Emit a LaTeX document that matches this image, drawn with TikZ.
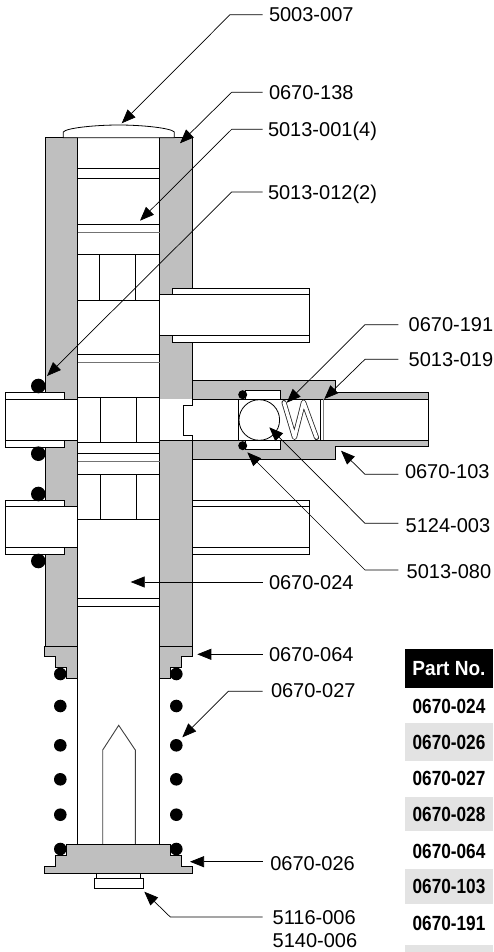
\documentclass[tikz,border=0pt]{standalone}
\usepackage{fontspec}
\setmainfont{Liberation Sans}
\newfontfamily\tabfont[FakeStretch=0.84]{Liberation Sans}
\newfontfamily\hdrfont[FakeStretch=0.93]{Liberation Sans}
\usetikzlibrary{arrows.meta}
\definecolor{body}{HTML}{BFBFBF}
\definecolor{rowgray}{HTML}{E3E3E3}
\tikzset{
  x=1pt,y=-1pt,
  part/.style={draw=black,line width=0.8pt,fill=body,line join=miter},
  open/.style={draw=black,line width=0.8pt,fill=white},
  edge/.style={draw=black,line width=0.8pt},
  ring/.style={fill=black},
  lead/.style={draw=black,line width=0.7pt,-{Triangle[length=14pt,width=11pt]},shorten >=0pt},
  lab/.style={anchor=west,inner ysep=0pt,inner xsep=0pt,outer sep=0pt,font=\fontsize{20}{22}\selectfont,text height=14.3pt,text depth=0pt},
  rowbase/.style={minimum width=88pt,inner sep=0pt,font=\tabfont\bfseries\fontsize{20.5}{22}\selectfont,text height=14.7pt,text depth=0pt},
  hdr/.style={rowbase,fill=black,text=white,minimum height=39pt,font=\hdrfont\bfseries\fontsize{20.5}{22}\selectfont},
  shade/.style={rowbase,fill=rowgray,minimum height=36pt},
  plain/.style={rowbase}
}
\begin{document}
\begin{tikzpicture}
\useasboundingbox (0,0) rectangle (493,952);
\fill[white] (0,0) rectangle (493,952);

% body walls
\path[part] (45,137.7) rectangle (77.5,646.7);
\path[part] (159.5,137.7) rectangle (192.5,646.7);

% cap
\path[open] (63.3,137.7) -- (63.3,132) .. controls (66,128) and (95,125) .. (118.8,125) .. controls (142,125) and (171,128) .. (174.3,132) -- (174.3,137.7) -- cycle;

% bore lines
\foreach \yy in {168.3,178.3,224.3,254.7,300.3,354.3,397.3,442.7,453.7,474.3,519.7,598.3,606.7}
  \draw[edge] (77.5,\yy) -- (159.5,\yy);
\foreach \yy in {232.7,362,461.7}
  \draw[draw=black!55,line width=1pt] (77.5,\yy) -- (159.5,\yy);
\draw[edge] (99.3,254.7) -- (99.3,300.3) (135.3,254.7) -- (135.3,300.3);
\draw[edge] (100.3,397.3) -- (100.3,442.7) (136.7,397.3) -- (136.7,442.7);
\draw[edge] (100.3,474.3) -- (100.3,519.7) (136.7,474.3) -- (136.7,519.7);

% upper right port
\path[open] (172.3,288.3) rectangle (309.3,342.3);
\fill[white] (159.9,294.3) rectangle (192.9,335.3);
\draw[edge] (159.5,294.3) -- (309.3,294.3) (159.5,335.3) -- (309.3,335.3);

% left ports
\path[open] (5.3,392.7) rectangle (64.7,447.3);
\fill[white] (6,399.3) rectangle (77.1,440.3);
\draw[edge] (5.3,399.3) -- (77.5,399.3) (5.3,440.3) -- (77.5,440.3);
\path[open] (5.3,500.3) rectangle (64.7,554.3);
\fill[white] (6,506.7) rectangle (77.1,547.7);
\draw[edge] (5.3,506.7) -- (77.5,506.7) (5.3,547.7) -- (77.5,547.7);

% lower right port
\path[open] (192.5,500.3) rectangle (309.3,554.3);
\draw[edge] (192.5,506.7) -- (309.3,506.7) (192.5,547.7) -- (309.3,547.7);

% valve block
\path[part] (192.5,380.7) -- (335.3,380.7) -- (335.3,392.7) -- (428.7,392.7) -- (428.7,446.7) -- (335.3,446.7) -- (335.3,459.3) -- (192.5,459.3) -- cycle;
\fill[white] (160,399.3) rectangle (428.3,440.3);
\draw[edge] (159.5,440.3) -- (428.7,440.3) (192.7,399.3) -- (428.7,399.3) -- (428.7,440.3);
\draw[edge] (192.7,399.3) -- (192.7,405) -- (183.3,405) -- (183.3,435) -- (192.7,435) -- (192.7,440.3);
% seat
\path[open] (245.7,399.3) -- (245.7,390.7) -- (280.3,390.7) -- (280.3,399.3) -- cycle;
\path[open] (245.7,440.3) -- (245.7,449.3) -- (280.3,449.3) -- (280.3,440.3) -- cycle;
\draw[edge] (238.7,399.3) -- (238.7,440.3);
\draw[edge] (259.3,420) circle (20.3);
\fill[ring] (242.7,394.7) circle (4.5) (242.7,445.7) circle (4.5);
% spring
\draw[black!85,line width=5pt,line join=round,line cap=round] (284,402.5) -- (294.5,437.5) -- (303.5,402) -- (316.5,437.5);
\draw[white,line width=3.4pt,line join=round,line cap=round] (284,402.5) -- (294.5,437.5) -- (303.5,402) -- (316.5,437.5);
\draw[edge] (320,399.3) -- (320,440.3);
\draw[draw=black!50,line width=0.8pt] (323.7,399.3) -- (323.7,440.3);

% lower flange
\path[part] (44.3,646.7) -- (77.5,646.7) -- (77.5,678.7) -- (66.7,678.7) -- (66.7,667.7) -- (55.7,667.7) -- (55.7,656.7) -- (44.3,656.7) -- cycle;
\path[part] (192.7,646.7) -- (159.5,646.7) -- (159.5,678.7) -- (170.3,678.7) -- (170.3,667.7) -- (181.3,667.7) -- (181.3,656.7) -- (192.7,656.7) -- cycle;

% tube and pin
\draw[edge] (77.5,678.7) -- (77.5,844) (159.5,678.7) -- (159.5,844);
\draw[draw=black!75,line width=0.9pt] (102.7,844) -- (102.7,750) -- (118.7,725.3) -- (135.3,750) -- (135.3,844);

% bottom plate
\path[part] (66.7,844) -- (170.3,844) -- (170.3,855.3) -- (181.3,855.3) -- (181.3,866) -- (192.7,866) -- (192.7,873.7) -- (44.3,873.7) -- (44.3,866) -- (55.7,866) -- (55.7,855.3) -- (66.7,855.3) -- cycle;
\path[open] (96.7,873.7) rectangle (140,878);
\path[open] (94.3,878) rectangle (143.3,888.7);

% spring coils
\foreach \yy in {674,706,745.3,779.3,814.7,849}{
  \fill[ring] (60.3,\yy) circle (6.3);
  \fill[ring] (176.3,\yy) circle (6.3);
}
% port o-rings
\fill[ring] (38.3,386) circle (7.3) (38.3,453.7) circle (7.3) (38.3,494) circle (7.3) (38.3,561) circle (7.3);

% labels
\node[lab] (a) at (269,14.7) {5003-007};
\node[lab] (b) at (269,92.3) {0670-138};
\node[lab] (c) at (268,129.3) {5013-001(4)};
\node[lab] (d) at (268,192) {5013-012(2)};
\node[lab] (e) at (408.7,324.7) {0670-191};
\node[lab] (f) at (408.7,359.3) {5013-019};
\node[lab] (g) at (405,474.3) {\raisebox{2.6pt}{0670-103}};
\node[lab] (h) at (405.7,523.3) {\raisebox{-1.7pt}{5124-003}};
\node[lab] (i) at (406.7,570) {\raisebox{-1pt}{5013-080}};
\node[lab] (j) at (269,582) {\raisebox{-0.7pt}{0670-024}};
\node[lab] (k) at (269,654.3) {0670-064};
\node[lab] (l) at (271,691.3) {\raisebox{0.6pt}{0670-027}};
\node[lab] (m) at (270.3,861.7) {\raisebox{-1.6pt}{0670-026}};
\node[lab] (n) at (272.7,917) {5116-006};
\node[lab] (o) at (272.7,940) {5140-006};

% leader tips and elbows
\coordinate (ta) at (121.7,123.3);  \coordinate (ea) at (230,14.7);
\coordinate (tb) at (180,143.3);    \coordinate (eb) at (231.7,92.3);
\coordinate (tc) at (140,220.7);    \coordinate (ec) at (231.7,129.3);
\coordinate (td) at (47,376);       \coordinate (ed) at (231.7,192);
\coordinate (te) at (286.7,402.7);  \coordinate (ee) at (365,324.7);
\coordinate (tf) at (324.3,399);    \coordinate (ef) at (365,359.3);
\coordinate (tg) at (341,450.7);    \coordinate (eg) at (365,474.3);
\coordinate (th) at (269.3,427.3);  \coordinate (eh) at (365,523.3);
\coordinate (ti) at (247.3,452.3);  \coordinate (ei) at (365,570);
\coordinate (tj) at (130.7,582);
\coordinate (tk) at (197.3,654.3);
\coordinate (tl) at (182.3,737.3);  \coordinate (el) at (228.3,691.3);
\coordinate (tm) at (190,861.7);
\coordinate (tn) at (144.3,891.7);  \coordinate (en) at (170.3,917);

\foreach \nm/\gap in {a/6.3,b/6.3,c/5.3,d/5.3,e/10.4,f/10.4,g/6.7,h/7.4,i/8.4}
  \draw[lead] ([xshift=-\gap pt]\nm.west) -- (e\nm) -- (t\nm);
\draw[lead] ([xshift=-6.3pt]j.west) -- (tj);
\draw[lead] ([xshift=-6.3pt]k.west) -- (tk);
\draw[lead] ([xshift=-8.3pt]l.west) -- (el) -- (tl);
\draw[lead] ([xshift=-7.6pt]m.west) -- (tm);
\draw[lead] ([xshift=-10pt]n.west) -- (en) -- (tn);

% table
\node[hdr] (th0) at (449,668.5) {Part No.};
\node[plain] (r1) at (449,706) {0670-024};
\node[shade,minimum height=38pt] (r2) at (449,741.7) {0670-026};
\node[plain] (r3) at (449,778) {0670-027};
\node[shade,minimum height=34.3pt] (r4) at (449,814) {0670-028};
\node[plain] (r5) at (449,851) {0670-064};
\node[shade,minimum height=35pt] (r6) at (449,886.5) {0670-103};
\node[plain] (r7) at (449,923) {0670-191};
\fill[rowgray] (405,945) rectangle (493,952);
\end{tikzpicture}
\end{document}
